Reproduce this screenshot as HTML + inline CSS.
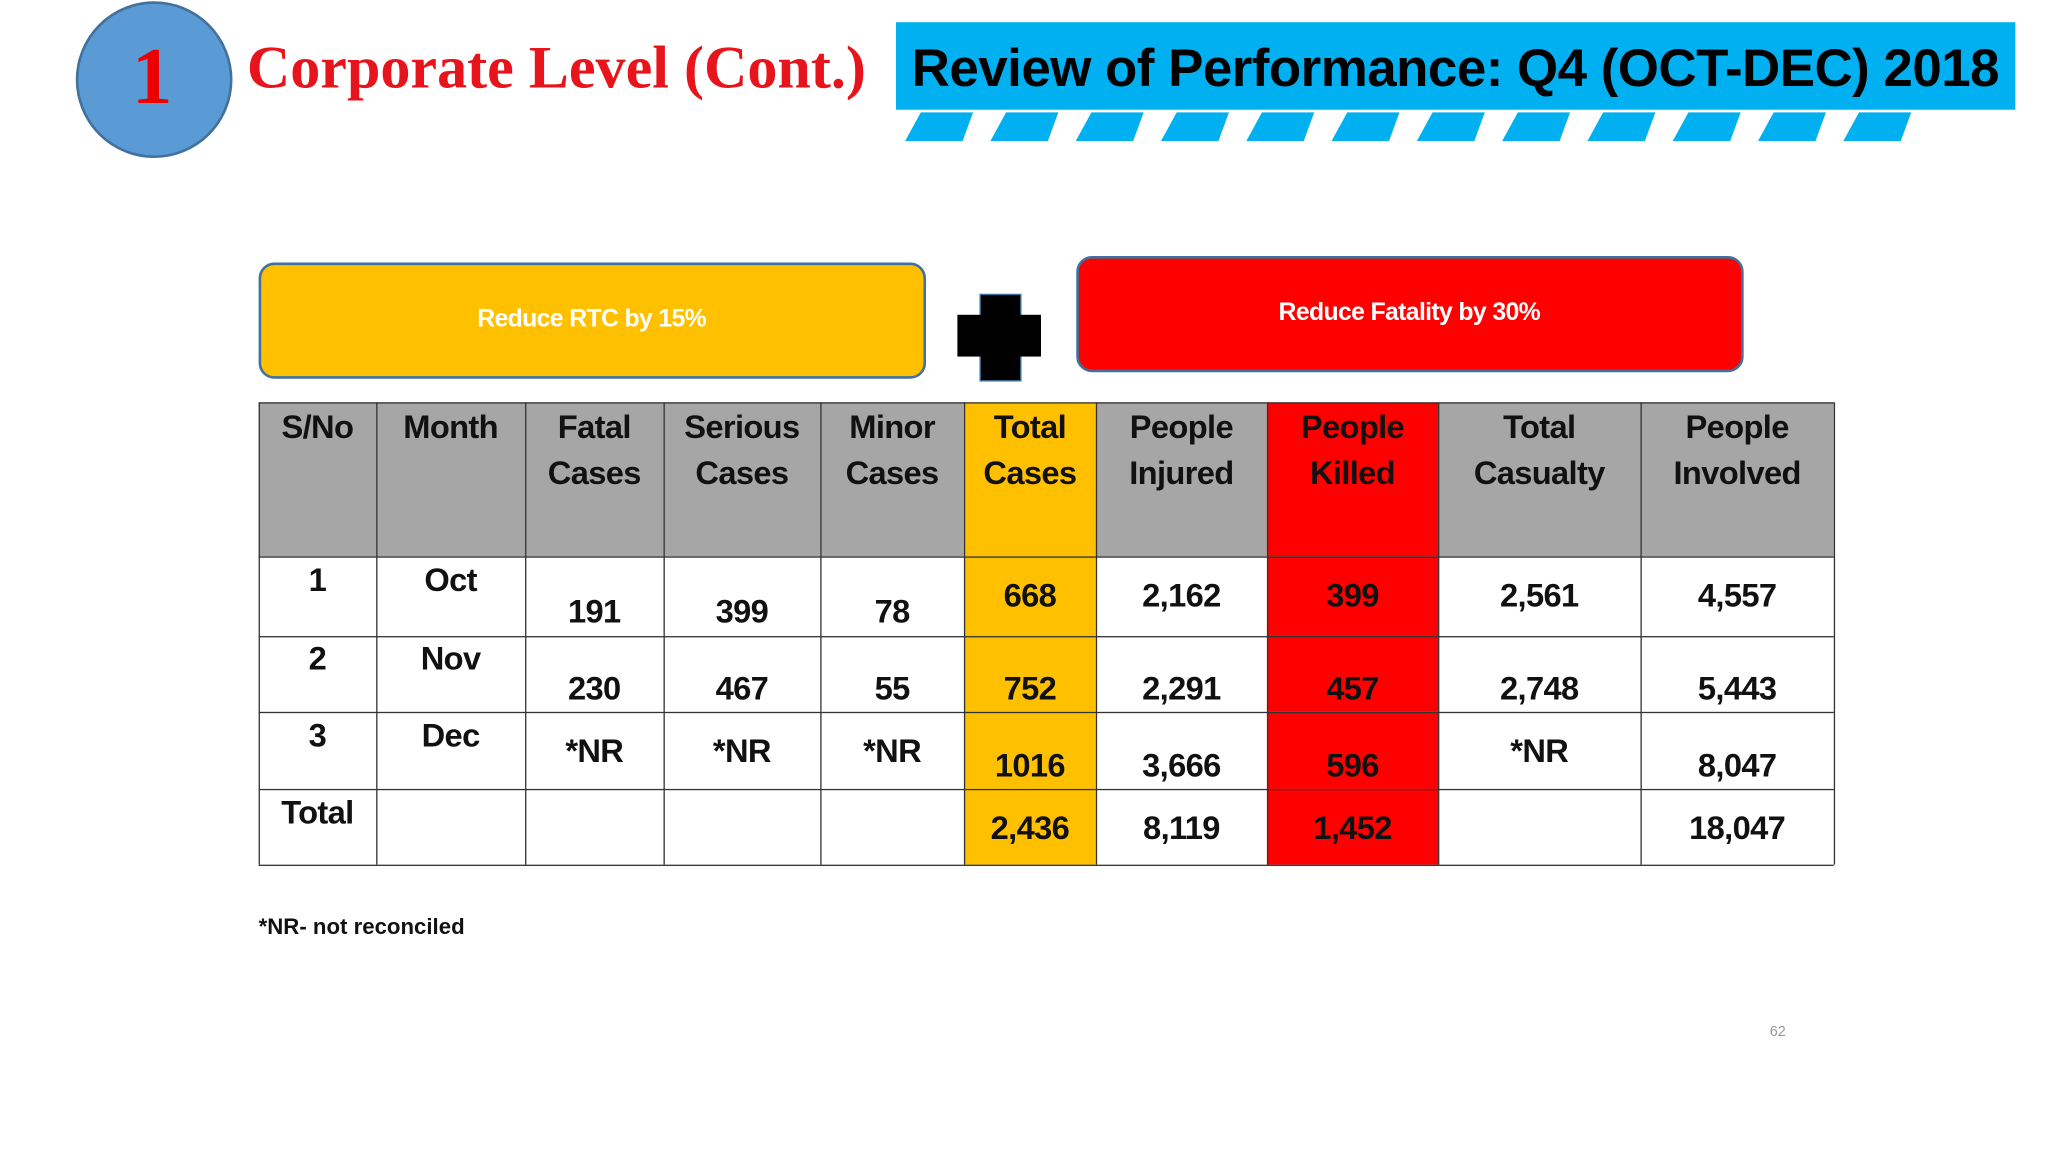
<!DOCTYPE html>
<html><head><meta charset="utf-8"><style>
html,body{margin:0;padding:0;width:2048px;height:1152px;overflow:hidden;background:#fff;}
#w{position:absolute;left:0;top:0;width:1568px;height:882px;transform:scale(1.30612);transform-origin:0 0;font-family:"Liberation Sans",sans-serif;}
.a{position:absolute;}
.t{position:absolute;white-space:nowrap;transform:translate(-50%,-50%);font-weight:bold;font-size:25px;color:#111;letter-spacing:-0.5px;}
</style></head><body>
<div id="w">
<div class="a" style="left:58px;top:1px;width:116px;height:116px;border-radius:50%;background:#5b9bd5;border:2px solid #41719c;"></div>
<div class="a" style="left:101px;top:24px;font:bold 62px 'Liberation Serif',serif;color:#e00;">1</div>
<div class="a" style="left:189px;top:25px;font:bold 46px 'Liberation Serif',serif;color:#e8141b;white-space:nowrap;">Corporate Level (Cont.)</div>
<div class="a" style="left:686px;top:17px;width:857px;height:67px;background:#00b0f0;"></div>
<div class="a" style="left:698px;top:29px;font:bold 40.5px 'Liberation Sans',sans-serif;color:#000;white-space:nowrap;letter-spacing:-0.4px;">Review of Performance: Q4 (OCT-DEC) 2018</div>
<svg class="a" style="left:0;top:0" width="1568" height="120" id="stripes"></svg>
<div class="a" style="left:198px;top:201px;width:507px;height:85px;background:#ffc000;border:2px solid #41719c;border-radius:12px;"></div>
<div class="t" style="left:453px;top:245px;color:#fff;font-size:19px;font-weight:bold;">Reduce RTC by 15%</div>
<div class="a" style="left:750px;top:225px;width:30px;height:65px;background:#000;border:1px solid #41719c;"></div>
<div class="a" style="left:733px;top:241px;width:64px;height:32px;background:#000;"></div>
<div class="a" style="left:824px;top:196px;width:507px;height:85px;background:#ff0000;border:2px solid #41719c;border-radius:12px;"></div>
<div class="t" style="left:1079px;top:240px;color:#fff;font-size:19px;font-weight:bold;">Reduce Fatality by 30%</div>
<div id="tbl"></div>
<div class="a" style="left:198px;top:700px;font:bold 17px 'Liberation Sans',sans-serif;color:#111;">*NR- not reconciled</div>
<div class="a" style="left:1355px;top:784px;font:11px 'Liberation Sans',sans-serif;color:#999;">62</div>
</div>
<script>
const colX=[198,288,402,508,628,738,839,970,1101,1256,1404];
const rowY=[308,426,487,545,604,662];
const headers=[["S/No"],["Month"],["Fatal","Cases"],["Serious","Cases"],["Minor","Cases"],["Total","Cases"],["People","Injured"],["People","Killed"],["Total","Casualty"],["People","Involved"]];
const rowsData=[
 ["1","Oct","191","399","78","668","2,162","399","2,561","4,557"],
 ["2","Nov","230","467","55","752","2,291","457","2,748","5,443"],
 ["3","Dec","*NR","*NR","*NR","1016","3,666","596","*NR","8,047"],
 ["Total","","","","","2,436","8,119","1,452","","18,047"]];
const textY=[
 [445,445,469,469,469,457,457,457,457,457],
 [505,505,528,528,528,528,528,528,528,528],
 [564,564,576,576,576,587,587,587,576,587],
 [623,635,635,635,635,635,635,635,635,635]];
const w=document.getElementById('w');
const svg=document.getElementById('stripes');
for(let i=0;i<12;i++){const x=693+i*65.3;const p=document.createElementNS('http://www.w3.org/2000/svg','polygon');
p.setAttribute('points',`${x+12},86 ${x+52},86 ${x+44},108 ${x},108`);p.setAttribute('fill','#00b0f0');


svg.appendChild(p);}
function bg(c){return c==5?'#ffc000':c==7?'#ff0000':null;}
for(let c=0;c<10;c++){
 const h=document.createElement('div');h.className='a';
 h.style.cssText=`left:${colX[c]}px;top:${rowY[0]}px;width:${colX[c+1]-colX[c]}px;height:${rowY[1]-rowY[0]}px;background:${bg(c)||'#a6a6a6'}`;
 
 
 w.appendChild(h);
 headers[c].forEach((s,k)=>{const t=document.createElement('div');t.className='t';t.textContent=s;
  t.style.left=(colX[c]+colX[c+1])/2+'px';t.style.top=(328+k*35)+'px';
  
  
  w.appendChild(t);});
 for(let r=0;r<4;r++){
  if(bg(c)){const b=document.createElement('div');b.className='a';
   b.style.cssText=`left:${colX[c]}px;top:${rowY[r+1]}px;width:${colX[c+1]-colX[c]}px;height:${rowY[r+2]-rowY[r+1]}px;background:${bg(c)}`;
   
   
   w.appendChild(b);}
  const v=rowsData[r][c];if(!v)continue;
  const t=document.createElement('div');t.className='t';t.textContent=v;
  t.style.left=(colX[c]+colX[c+1])/2+'px';t.style.top=textY[r][c]+'px';
  
  
  w.appendChild(t);}
}
for(const x of colX){const l=document.createElement('div');l.className='a';
 l.style.cssText=`left:${x-0.5}px;top:${rowY[0]}px;width:1.3px;height:${rowY[5]-rowY[0]}px;background:#333`;
 
 
 w.appendChild(l);}
for(const y of rowY){const l=document.createElement('div');l.className='a';
 l.style.cssText=`left:${colX[0]}px;top:${y-0.5}px;width:${colX[10]-colX[0]}px;height:1.3px;background:#333`;
 
 
 w.appendChild(l);}
</script>
</body></html>
